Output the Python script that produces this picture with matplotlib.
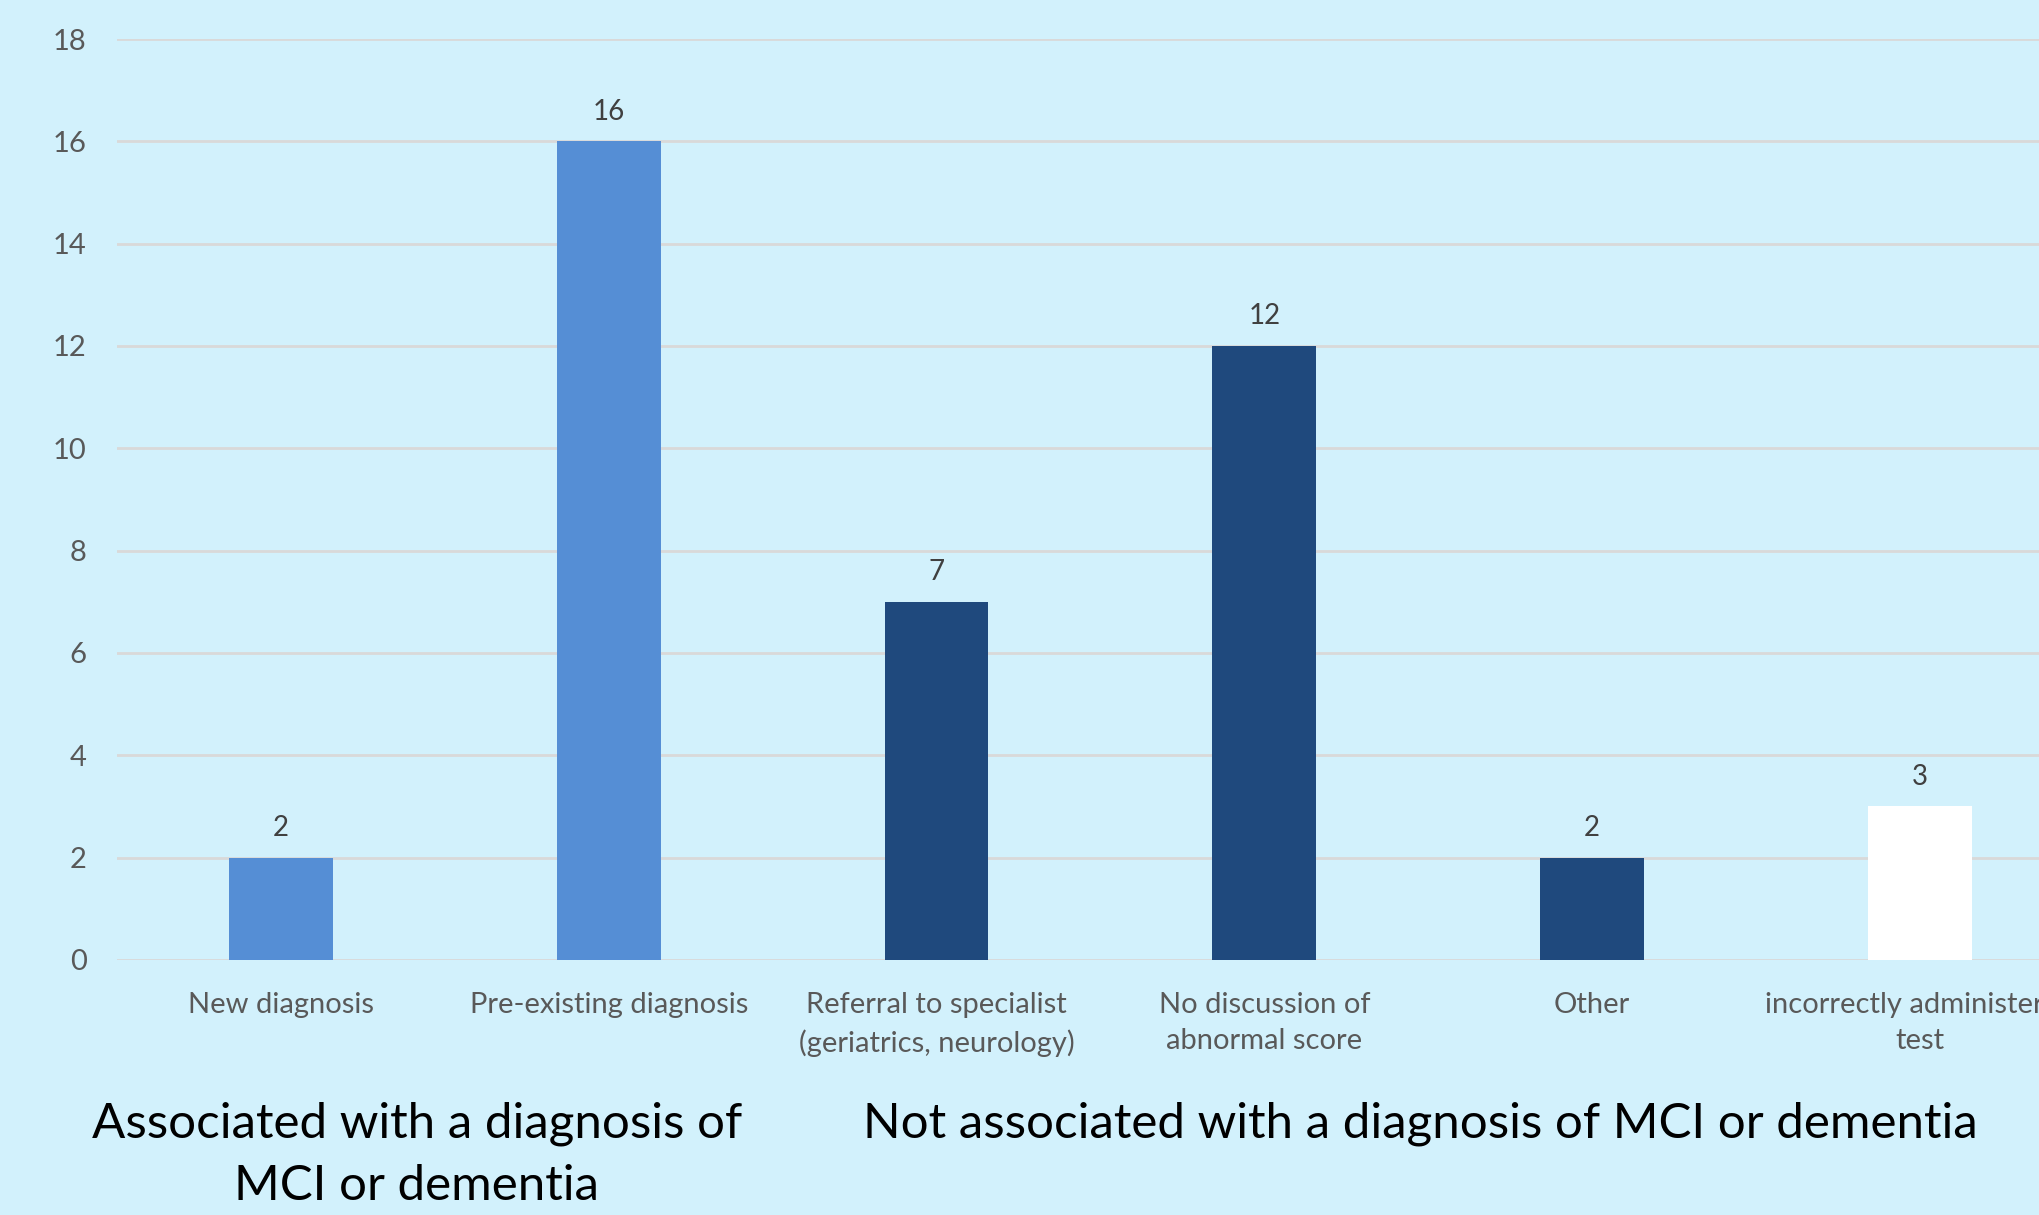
import matplotlib.pyplot as plt

plt.rcParams["font.family"] = ["Lato", "DejaVu Sans"]

categories = [
    "New diagnosis",
    "Pre-existing diagnosis",
    "Referral to specialist\n(geriatrics, neurology)",
    "No discussion of\nabnormal score",
    "Other",
    "incorrectly administered\ntest",
]
counts = [2, 16, 7, 12, 2, 3]
bar_colors = ["#558ED5", "#558ED5", "#1F497D", "#1F497D", "#1F497D", "#FFFFFF"]
group_labels = [
    "Associated with a diagnosis of\nMCI or dementia",
    "Not associated with a diagnosis of MCI or dementia",
]
yticks = [0, 2, 4, 6, 8, 10, 12, 14, 16, 18]

bg = "#D2F1FC"
fig = plt.figure(figsize=(20.4, 12.15), dpi=100, facecolor=bg)
# axes run a little past the right edge, like the cropped original
ax = fig.add_axes([0.0574, 0.2099, 0.964, 0.758], facecolor=bg)

x = list(range(len(categories)))
bars = ax.bar(x, counts, width=0.317, color=bar_colors, zorder=3)

for xi, v in zip(x, counts):
    ax.annotate(str(v), (xi, v), xytext=(0, 12), textcoords="offset points",
                ha="center", va="bottom", fontsize=20, color="#404040")

ax.set_xlim(-0.5, len(categories) - 0.5)
ax.set_ylim(0, 18)
ax.set_yticks(yticks)
ax.set_xticks(x)
ax.set_xticklabels(categories, linespacing=1.5)
ax.grid(axis="y", color="#D9D9D9", linewidth=2, zorder=0)
ax.tick_params(axis="both", length=0, labelsize=21, labelcolor="#595959")
ax.tick_params(axis="x", pad=23)
ax.tick_params(axis="y", pad=22)
for s in ax.spines.values():
    s.set_visible(False)

fig.text(417 / 2040, 1 - 1101 / 1215, group_labels[0], ha="center", va="top",
         fontsize=35.5, color="black", linespacing=1.5)
fig.text(1420 / 2040, 1 - 1101 / 1215, group_labels[1], ha="center", va="top",
         fontsize=35.5, color="black")

fig.savefig("out.png", dpi=100, facecolor=bg)
